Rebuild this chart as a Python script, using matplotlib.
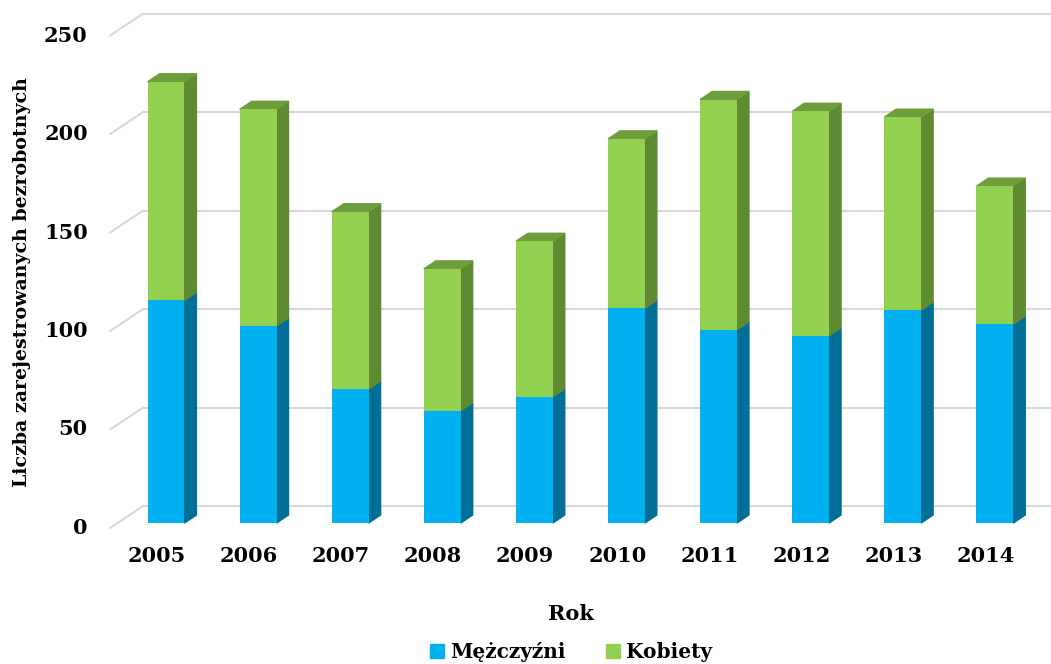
import numpy as np
import matplotlib.pyplot as plt
from matplotlib.patches import Polygon, Patch

# data
years = ['2005', '2006', '2007', '2008', '2009', '2010', '2011', '2012', '2013', '2014']
men = [113, 100, 68, 57, 64, 109, 98, 95, 108, 101]
women = [111, 110, 90, 72, 79, 86, 117, 114, 98, 70]
yticks = [0, 50, 100, 150, 200, 250]

# colours
blue, blue_side = '#00B0F0', '#006F97'
green, green_side, green_top = '#92D050', '#5E8A32', '#6E9E3C'
grid_col = '#D9D9D9'

plt.rcParams['font.family'] = 'DejaVu Serif'
plt.rcParams['font.weight'] = 'bold'

fig = plt.figure(figsize=(10.51, 6.64), dpi=100)
ax = fig.add_axes([100 / 1051, 124 / 664, 951 / 1051, 535 / 664])
ax.set_xlim(-0.717, 9.61)
ax.set_ylim(-8.6, 263)
ax.axis('off')

# fake 3d geometry (data units)
w = 0.4
dx, dy = 0.13, 4.1          # bar depth
bx, by = 0.27, 8.6          # back wall offset
fx, fy = -0.087, -2.5       # front plane offset

# gridlines on the back wall + floor diagonals
for v in yticks:
    ax.plot([bx - 0.52, 9.61], [v + by, v + by], color=grid_col, lw=1.5, zorder=0)
    ax.plot([fx - 0.52, bx - 0.52], [v + fy, v + by], color=grid_col, lw=1.5, zorder=0)
    ax.text(-0.85, v + fy, str(v), ha='right', va='center', fontsize=15)

x = np.arange(len(years))
men = np.array(men)
women = np.array(women)


def bar3d(xc, bottom, h, front, side, top=None):
    ax.bar(xc, h, bottom=bottom, width=w, color=front, zorder=3)
    t = bottom + h
    xr = xc + w / 2
    ax.add_patch(Polygon([(xr, bottom), (xr + dx, bottom + dy), (xr + dx, t + dy), (xr, t)],
                         closed=True, color=side, zorder=2))
    if top is not None:
        xl = xc - w / 2
        ax.add_patch(Polygon([(xl, t), (xl + dx, t + dy), (xr + dx, t + dy), (xr, t)],
                             closed=True, color=top, zorder=2))


for i in range(len(years)):
    bar3d(x[i], 0, men[i], blue, blue_side)
    bar3d(x[i], men[i], women[i], green, green_side, green_top)
    ax.text(x[i] - 0.1, -16.8, years[i], ha='center', va='center', fontsize=15)

fig.text(22 / 1051, 1 - 282 / 664, 'Liczba zarejestrowanych bezrobotnych',
         rotation=90, ha='center', va='center', fontsize=13.7)
fig.text(571 / 1051, 1 - 614 / 664, 'Rok', ha='center', va='center', fontsize=15)

handles = [Patch(color=blue, label='Mężczyźni'), Patch(color=green, label='Kobiety')]
fig.legend(handles=handles, loc='center', bbox_to_anchor=(571 / 1051, 1 - 652 / 664),
           ncol=2, frameon=False, fontsize=14.5, handlelength=0.7, handleheight=0.7,
           handletextpad=0.3, columnspacing=2.0)

plt.savefig('out.png', dpi=100)
